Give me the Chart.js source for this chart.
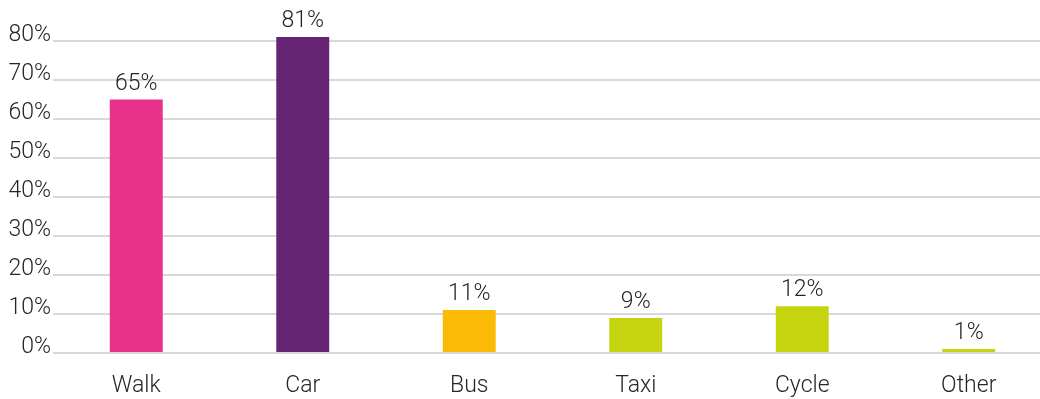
<!DOCTYPE html>
<html>
<head>
<meta charset="utf-8">
<script src="https://cdn.jsdelivr.net/npm/chart.js@4/dist/chart.umd.min.js"></script>
<style>
  html, body { margin: 0; padding: 0; background: #fff; overflow: hidden; }
  #mode_chart { display: block; }
</style>
</head>
<body>
<canvas id="mode_chart" width="1052" height="399"></canvas>
<script>
// travel mode shares, in percent
const modes = ["Walk", "Car", "Bus", "Taxi", "Cycle", "Other"]
const share = [65, 81, 11, 9, 12, 1]
const bar_colors = ["#e8318a", "#662475", "#fbba06", "#c5d40e", "#c5d40e", "#c5d40e"]
const y_ticks = [0, 10, 20, 30, 40, 50, 60, 70, 80]

const text_color = "#262626"
const font_family = "Roboto, 'Open Sans', sans-serif"

// writes the value over each bar
const value_labels = {
  id: "value_labels",
  afterDatasetsDraw(chart) {
    const ctx = chart.ctx
    const meta = chart.getDatasetMeta(0)
    ctx.save()
    ctx.font = "300 23px " + font_family
    ctx.fillStyle = text_color
    ctx.textAlign = "center"
    ctx.textBaseline = "bottom"
    meta.data.forEach((bar, i) => {
      ctx.fillText(share[i] + "%", bar.x, bar.y - 4)
    })
    ctx.restore()
  }
}

const mode_config = {
  type: "bar",
  data: {
    labels: modes,
    datasets: [{
      data: share,
      backgroundColor: bar_colors,
      borderWidth: 0,
      barPercentage: 0.318,
      categoryPercentage: 1,
      clip: false
    }]
  },
  options: {
    responsive: false,
    animation: false,
    layout: { autoPadding: false, padding: { top: 41, bottom: 0, left: 0, right: 0 } },
    plugins: {
      legend: { display: false },
      tooltip: { enabled: false }
    },
    scales: {
      x: {
        grid: { display: false, drawTicks: false },
        border: { display: false },
        afterFit: (axis) => { axis.height = 46 },
        ticks: {
          color: text_color,
          padding: 19,
          font: { family: font_family, size: 23, weight: 300 }
        }
      },
      y: {
        min: 0,
        max: 80,
        afterBuildTicks: (axis) => { axis.ticks = y_ticks.map(v => ({ value: v })) },
        afterFit: (axis) => { axis.width = 53 },
        grid: { color: "#d9d9d9", lineWidth: 2, drawTicks: false },
        border: { display: false },
        ticks: {
          color: text_color,
          padding: 2,
          labelOffset: -6,
          font: { family: font_family, size: 23, weight: 300 },
          callback: (v) => v + "%"
        }
      }
    }
  },
  plugins: [value_labels]
}

const modeChart = new Chart(document.getElementById("mode_chart"), mode_config)
</script>
</body>
</html>
